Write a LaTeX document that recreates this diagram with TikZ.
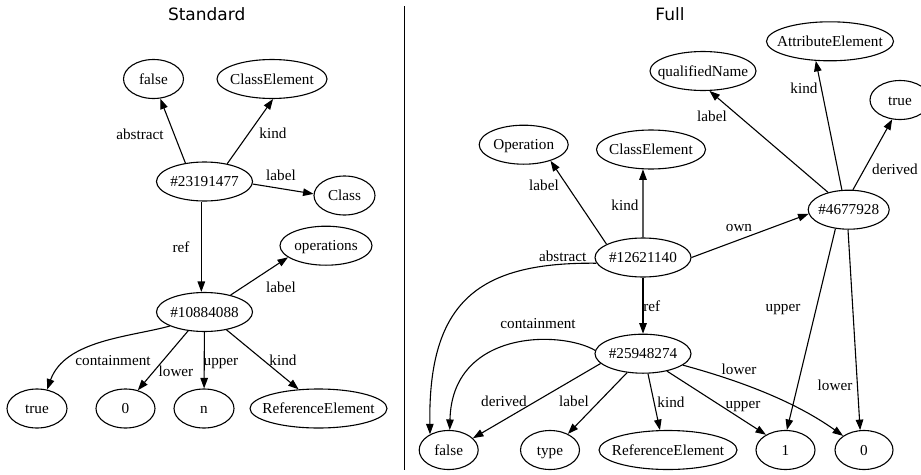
\documentclass[tikz,border=0pt]{standalone}
\usepackage{fontspec}
\setmainfont{Liberation Serif}
\newfontfamily\titlefont{DejaVu Sans}
\usetikzlibrary{shapes.geometric,arrows.meta}
\tikzstyle{gv}=[draw, ellipse, inner sep=0pt, minimum height=39, line width=1.1, text height=12, text depth=1.6, font=\fontsize{15.2}{18}\selectfont]
\tikzstyle{lbl}=[inner sep=0pt, text height=12, text depth=1.6, font=\fontsize{15.2}{18}\selectfont]
\tikzstyle{edge}=[line width=1.1, -{Triangle[length=10.5pt,width=7.5pt]}]
\tikzstyle{ttl}=[anchor=base, font=\titlefont\fontsize{17}{20}\selectfont]
\newcommand{\gvnode}[4]{
 \node[gv, minimum width=#3] (#1) at #2 {\makebox[0pt]{#4}};
}

\begin{document}
\begin{tikzpicture}[x=1pt, y=-1pt]
 \useasboundingbox (0,0) rectangle (921,474);
 \node[ttl] (tstd) at (206.7,20) {Standard};
 \node[ttl] (tfull) at (670,20) {Full};
 \draw[line width=1.1] (404.3,6) -- (404.3,470);
%
 \gvnode{fl}{(153.5,79)}{60}{false}
 \gvnode{cl}{(272,79)}{110}{ClassElement}
 \gvnode{h1}{(204.5,181.5)}{96}{\#23191477}
 \gvnode{cls}{(344.5,195.5)}{61}{Class}
 \gvnode{ops}{(326,245.7)}{92}{operations}
 \gvnode{h2}{(204.5,312)}{96}{\#10884088}
 \gvnode{tl}{(37,408.5)}{60}{true}
 \gvnode{zl}{(125.5,408.5)}{59}{0}
 \gvnode{nl}{(204,408.5)}{60}{n}
 \gvnode{rl}{(318.5,408.5)}{137}{ReferenceElement}
%
 \draw[edge] (h1.136) -- (fl.289);
 \draw[edge] (h1.38) -- (cl.273);
 \draw[edge] (h1.357) -- (cls.177);
 \draw[edge] (h1.261) -- (h2.99);
 \draw[edge] (h2.33) -- (ops.197);
 \draw[edge] (h2.202) .. controls (130,337) and (65,340) .. (tl.62);
 \draw[edge] (h2.229) -- (zl.56);
 \draw[edge] (h2) -- (nl);
 \draw[edge] (h2.321) -- (rl.136);
%
 \node[lbl] (la1) at (140,134) {abstract};
 \node[lbl] (la2) at (273,133) {kind};
 \node[lbl] (la3) at (281,175) {label};
 \node[lbl] (la4) at (181,247) {ref};
 \node[lbl] (la5) at (281,287) {label};
 \node[lbl] (la6) at (113,360) {containment};
 \node[lbl] (la7) at (176,371) {lower};
 \node[lbl] (la8) at (221,360) {upper};
 \node[lbl] (la9) at (283,360) {kind};
%
 \gvnode{ae}{(830,41.3)}{127}{AttributeElement}
 \gvnode{qn}{(703,71)}{106}{qualifiedName}
 \gvnode{tr}{(900,100)}{60}{true}
 \gvnode{op}{(523.7,144.7)}{89}{Operation}
 \gvnode{cr}{(651,149.5)}{109}{ClassElement}
 \gvnode{h3}{(848.7,209.7)}{81}{\#4677928}
 \gvnode{h4}{(643,257.5)}{96}{\#12621140}
 \gvnode{h5}{(643,353.7)}{96}{\#25948274}
 \gvnode{fr}{(448.7,450)}{59}{false}
 \gvnode{ty}{(550,450)}{59}{type}
 \gvnode{rr}{(668,450)}{138}{ReferenceElement}
 \gvnode{one}{(785.5,450)}{59}{1}
 \gvnode{zero}{(864,450)}{58}{0}
%
 \draw[edge] (h4.160) -- (op.329);
 \draw[edge] (h4.90) -- (cr.248);
 \draw[edge] (h4.0) -- (h3.186);
 \draw[edge] (h4.187) .. controls (480,262) and (428,300) .. (fr.140);
 \draw[edge] (h4) -- (h5);
 \draw[edge] (h5.176) .. controls (560,330) and (452,330) .. (fr.87);
 \draw[edge] (h5.193) -- (fr.26);
 \draw[edge] (h5.230) -- (ty.42);
 \draw[edge] (h5.284) -- (rr.112);
 \draw[edge] (h5.324) -- (one.142);
 \draw[edge] (h5.344) .. controls (730,378) and (790,398) .. (zero.146);
 \draw[edge] (h3.140) -- (qn.288);
 \draw[edge] (h3.109) -- (ae.234);
 \draw[edge] (h3.78) -- (tr.248);
 \draw[edge] (h3.235) -- (one.86);
 \draw[edge] (h3.268) -- (zero.101);
%
 \node[lbl] (lb1) at (544,185) {label};
 \node[lbl] (lb2) at (625,205) {kind};
 \node[lbl] (lb3) at (739,226) {own};
 \node[lbl] (lb4) at (712,116) {label};
 \node[lbl] (lb5) at (804,88) {kind};
 \node[lbl] (lb6) at (895,169) {derived};
 \node[lbl] (lb7) at (562.7,256) {abstract};
 \node[lbl] (lb8) at (651.7,306) {ref};
 \node[lbl] (lb9) at (538,323) {containment};
 \node[lbl] (lb10) at (783,306) {upper};
 \node[lbl] (lb11) at (835,385) {lower};
 \node[lbl] (lb12) at (739,369) {lower};
 \node[lbl] (lb13) at (504,401) {derived};
 \node[lbl] (lb14) at (574,401) {label};
 \node[lbl] (lb15) at (671,402) {kind};
 \node[lbl] (lb16) at (743,403) {upper};
\end{tikzpicture}
\end{document}
